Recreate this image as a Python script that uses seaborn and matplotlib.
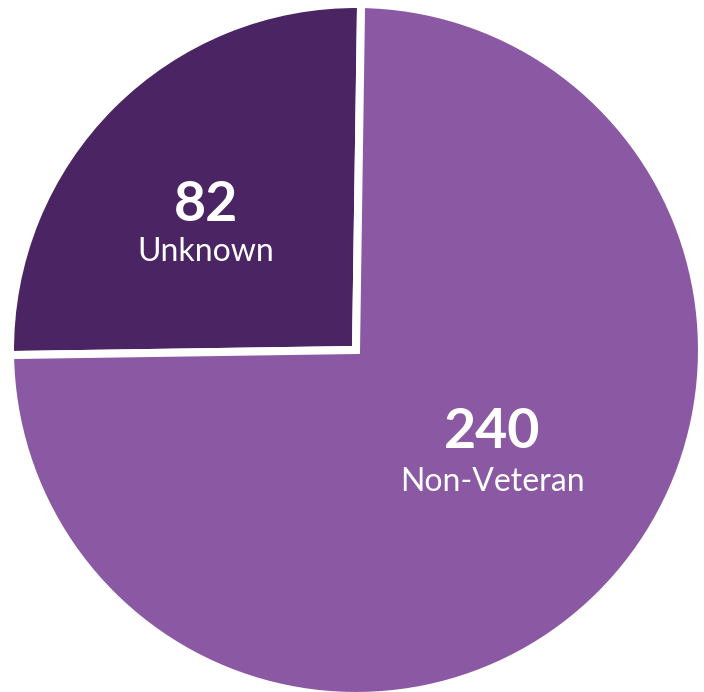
import matplotlib
matplotlib.use("Agg")
import matplotlib.pyplot as plt
import seaborn as sns

categories = ["Unknown", "Non-Veteran"]
values = [82, 240]
colors = ["#4B2463", "#8B59A3"]

sns.set_theme(style="white")
plt.rcParams['font.family'] = ['Lato', 'DejaVu Sans']

W, H = 704, 692
fig = plt.figure(figsize=(W / 100, H / 100), dpi=100)
ax = fig.add_axes([0, 0, 1, 1])
ax.set_xlim(0, W)
ax.set_ylim(0, H)
ax.set_aspect('equal')
ax.axis('off')

cx, cy, r = 356, H - 350, 346
share = values[0] / sum(values) * 360
start = 90 - (share - 90) / 2

ax.pie(values, colors=sns.color_palette(colors), startangle=start,
       center=(cx, cy), radius=r, counterclock=True,
       wedgeprops=dict(edgecolor="white", linewidth=5.8))
ax.set_xlim(0, W)
ax.set_ylim(0, H)

num_y = [H - 205, H - 432]
cat_y = [H - 252, H - 482]
label_x = [cx - 150, cx + 136]
for i, cat in enumerate(categories):
    ax.text(label_x[i], num_y[i], str(values[i]), color="white", fontsize=40,
            fontweight="bold", ha="center", va="center")
    ax.text(label_x[i], cat_y[i], cat, color="white", fontsize=23,
            ha="center", va="center")

fig.savefig("out.png", dpi=100, facecolor="white")
